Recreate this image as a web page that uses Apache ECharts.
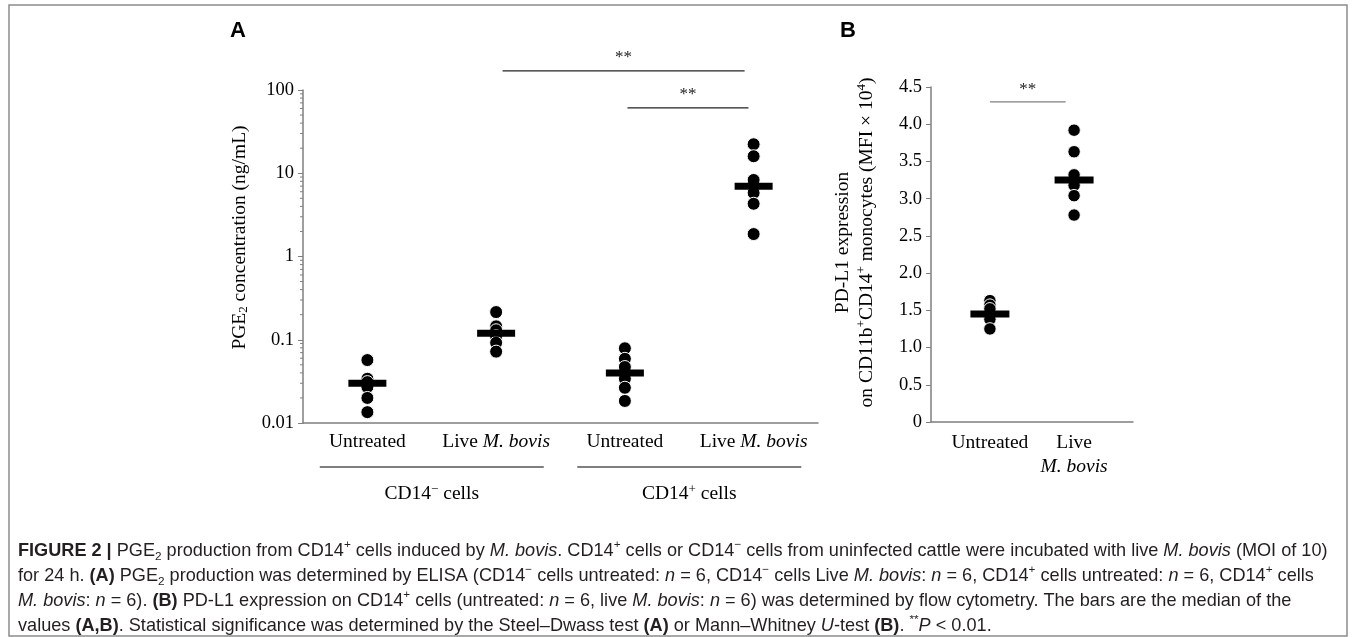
<!DOCTYPE html>
<html>
<head>
<meta charset="utf-8">
<script src="https://cdn.jsdelivr.net/npm/echarts@6/dist/echarts.min.js"></script>
<style>
  html, body { margin: 0; padding: 0; background: #fff; }
  #main { width: 1357px; height: 637px; }
</style>
</head>
<body>
<div id="main"></div>
<script>
// panel A: PGE2 concentration (ng/mL), log axis
var groupsA = ['Untreated', 'Live M. bovis', 'Untreated', 'Live M. bovis'];
var cellTypesA = ['CD14{sup|−} cells', 'CD14{sup|+} cells'];
var pgeNegUntreated = [0.057, 0.034, 0.031, 0.027, 0.020, 0.0135];
var pgeNegLive = [0.215, 0.145, 0.13, 0.11, 0.092, 0.072];
var pgePosUntreated = [0.079, 0.059, 0.047, 0.034, 0.0265, 0.0184];
var pgePosLive = [22.3, 16.0, 8.3, 5.8, 4.3, 1.86];
var pgeMedians = [0.030, 0.12, 0.040, 7.0];

// panel B: PD-L1 expression (MFI x 10^4)
var groupsB = ['Untreated', 'Live\n{i|M. bovis}'];
var pdl1Untreated = [1.63, 1.57, 1.52, 1.40, 1.38, 1.25];
var pdl1Live = [3.92, 3.63, 3.32, 3.18, 3.04, 2.78];
var pdl1Medians = [1.45, 3.25];

var serif = 'Liberation Serif';
var capFamily = '"Liberation Sans Narrow", "Liberation Sans"';
var axisColor = '#7f7f7f';
var txt = 19.5;

var chart = echarts.init(document.getElementById('main'));

function dots(lists) {
  var out = [];
  lists.forEach(function (vals, i) {
    vals.forEach(function (v) { out.push([i, v]); });
  });
  return out;
}

var serifRich = {
  i: { fontFamily: serif, fontSize: txt, fontStyle: 'italic', color: '#000' },
  sup: { fontFamily: serif, fontSize: 13, color: '#000', verticalAlign: 'top', lineHeight: 12 },
  sub: { fontFamily: serif, fontSize: 13, color: '#000', verticalAlign: 'bottom', lineHeight: 12 }
};

var option = {
  animation: false,
  grid: [
    { left: 303, top: 90, width: 515, height: 333 },
    { left: 931, top: 87, width: 202, height: 335 }
  ],
  xAxis: [
    {
      type: 'category', gridIndex: 0, data: groupsA,
      axisLine: { onZero: false, lineStyle: { color: axisColor, width: 1.5 } },
      axisTick: { show: false },
      axisLabel: {
        fontFamily: serif, fontSize: txt, color: '#000', margin: 9, interval: 0,
        formatter: function (v) { return v.replace('M. bovis', '{i|M. bovis}'); },
        rich: serifRich
      }
    },
    {
      type: 'value', gridIndex: 1, min: -0.7, max: 1.7,
      splitLine: { show: false },
      axisLine: { show: true, onZero: false, lineStyle: { color: axisColor, width: 1.5 } },
      axisTick: { show: false },
      axisLabel: {
        customValues: [0, 1],
        fontFamily: serif, fontSize: txt, color: '#000', margin: 9, lineHeight: 24,
        formatter: function (v) { return groupsB[Math.round(v)]; },
        rich: {
          i: { fontFamily: serif, fontSize: txt, fontStyle: 'italic', color: '#000', lineHeight: 24 }
        }
      }
    }
  ],
  yAxis: [
    {
      type: 'log', gridIndex: 0, logBase: 10, min: 0.01, max: 100,
      splitLine: { show: false },
      axisLine: { show: true, onZero: false, lineStyle: { color: axisColor, width: 1.5 } },
      axisTick: { show: true, length: 5, lineStyle: { color: axisColor } },
      axisLabel: {
        fontFamily: serif, fontSize: 18.5, color: '#000', margin: 9,
        formatter: function (v) { return String(Number(v.toPrecision(2))); }
      },
      name: 'PGE{sub|2} concentration (ng/mL)',
      nameLocation: 'middle', nameRotate: 90, nameGap: 53,
      nameTextStyle: { fontFamily: serif, fontSize: txt, color: '#000', padding: [0, 0, 0, 38], rich: serifRich }
    },
    {
      type: 'value', gridIndex: 1, min: 0, max: 4.5, interval: 0.5,
      splitLine: { show: false },
      axisLine: { show: true, onZero: false, lineStyle: { color: axisColor, width: 1.5 } },
      axisTick: { show: true, length: 5, lineStyle: { color: axisColor } },
      axisLabel: {
        fontFamily: serif, fontSize: 18.5, color: '#000', margin: 9,
        formatter: function (v) { return v === 0 ? '0' : v.toFixed(1); }
      },
      name: 'PD-L1 expression\non CD11b{sup|+}CD14{sup|+} monocytes (MFI × 10{sup|4})',
      nameLocation: 'middle', nameRotate: 90, nameGap: 52,
      nameTextStyle: { fontFamily: serif, fontSize: txt, color: '#000', lineHeight: 24, align: 'center', padding: [0, 0, 0, 24], rich: serifRich }
    }
  ],
  series: [
    {
      type: 'scatter', xAxisIndex: 0, yAxisIndex: 0, symbolSize: 13, silent: true,
      itemStyle: { color: '#000', borderColor: '#fff', borderWidth: 1, opacity: 1 },
      data: dots([pgeNegUntreated, pgeNegLive, pgePosUntreated, pgePosLive])
    },
    {
      type: 'scatter', xAxisIndex: 0, yAxisIndex: 0, symbol: 'rect', symbolSize: [38, 7], silent: true, z: 3,
      itemStyle: { color: '#000', opacity: 1 },
      data: pgeMedians.map(function (m, i) { return [i, m]; })
    },
    {
      type: 'scatter', xAxisIndex: 1, yAxisIndex: 1, symbolSize: 12.5, silent: true,
      itemStyle: { color: '#000', borderColor: '#fff', borderWidth: 1, opacity: 1 },
      data: dots([pdl1Untreated, pdl1Live])
    },
    {
      type: 'scatter', xAxisIndex: 1, yAxisIndex: 1, symbol: 'rect', symbolSize: [39, 7], silent: true, z: 3,
      itemStyle: { color: '#000', opacity: 1 },
      data: pdl1Medians.map(function (m, i) { return [i, m]; })
    }
  ]
};
chart.setOption(option);

// annotations placed through the axes
function pA(x, y) { return chart.convertToPixel({ gridIndex: 0 }, [x, y]); }
function pB(x, y) { return chart.convertToPixel({ gridIndex: 1 }, [x, y]); }
var band = pA(1, 1)[0] - pA(0, 1)[0];
var baseA = pA(0, 0.01)[1];
var g = [];

// frame and panel letters
g.push({ type: 'rect', shape: { x: 9, y: 5, width: 1338, height: 631 }, style: { fill: 'none', stroke: '#8c8c8c', lineWidth: 1.5 } });
g.push({ type: 'text', style: { text: 'A', x: 238, y: 31, font: 'bold 22px "Liberation Sans"', fill: '#000', align: 'center', verticalAlign: 'middle' } });
g.push({ type: 'text', style: { text: 'B', x: 848, y: 31, font: 'bold 22px "Liberation Sans"', fill: '#000', align: 'center', verticalAlign: 'middle' } });

// log minor ticks on panel A
[-2, -1, 0, 1].forEach(function (d) {
  for (var k = 2; k <= 9; k++) {
    var p = pA(0, k * Math.pow(10, d));
    var x0 = pA(0, 1)[0] - band / 2;
    g.push({ type: 'line', shape: { x1: x0 - 3, y1: p[1], x2: x0, y2: p[1] }, style: { stroke: axisColor, lineWidth: 1 } });
  }
});

// significance brackets
function sigA(a, fa, b, fb, val) {
  var y = pA(a, val)[1];
  var x1 = pA(a, val)[0] + fa * band, x2 = pA(b, val)[0] + fb * band;
  g.push({ type: 'line', shape: { x1: x1, y1: y, x2: x2, y2: y }, style: { stroke: '#222', lineWidth: 1.2 } });
  g.push({ type: 'text', style: { text: '**', x: (x1 + x2) / 2, y: y - 13, font: '17px "Liberation Serif"', fill: '#222', align: 'center', verticalAlign: 'middle' } });
}
sigA(1, 0.05, 3, -0.07, 170);
sigA(2, 0.02, 3, -0.04, 61);

var b1 = pB(0, 4.3), b2 = pB(0.9, 4.3);
g.push({ type: 'line', shape: { x1: b1[0], y1: b1[1], x2: b2[0], y2: b2[1] }, style: { stroke: '#808080', lineWidth: 1.2 } });
g.push({ type: 'text', style: { text: '**', x: (b1[0] + b2[0]) / 2, y: b1[1] - 12, font: '17px "Liberation Serif"', fill: '#222', align: 'center', verticalAlign: 'middle' } });

// cell type groups under panel A
cellTypesA.forEach(function (t, i) {
  var c = (pA(2 * i, 1)[0] + pA(2 * i + 1, 1)[0]) / 2;
  g.push({ type: 'line', shape: { x1: c - 112, y1: baseA + 44, x2: c + 112, y2: baseA + 44 }, style: { stroke: '#555', lineWidth: 1.5 } });
  g.push({
    type: 'text',
    style: {
      text: t, x: c, y: baseA + 71, fontFamily: serif, fontSize: txt, fill: '#000', align: 'center', verticalAlign: 'middle', lineHeight: 22,
      rich: {
        sup: { fontFamily: serif, fontSize: 13, fill: '#000', verticalAlign: 'top', lineHeight: 12 }
      }
    }
  });
});

// caption
var captionLines = [
  '{b|FIGURE 2 |} PGE{sub|2} production from CD14{sup|+} cells induced by {i|M. bovis}. CD14{sup|+} cells or CD14{sup|−} cells from uninfected cattle were incubated with live {i|M. bovis} (MOI of 10)',
  'for 24 h. {b|(A)} PGE{sub|2} production was determined by ELISA (CD14{sup|−} cells untreated: {i|n} = 6, CD14{sup|−} cells Live {i|M. bovis}: {i|n} = 6, CD14{sup|+} cells untreated: {i|n} = 6, CD14{sup|+} cells',
  '{i|M. bovis}: {i|n} = 6). {b|(B)} PD-L1 expression on CD14{sup|+} cells (untreated: {i|n} = 6, live {i|M. bovis}: {i|n} = 6) was determined by flow cytometry. The bars are the median of the',
  'values {b|(A,B)}. Statistical significance was determined by the Steel–Dwass test {b|(A)} or Mann–Whitney {i|U}-test {b|(B)}. {sup|**}{i|P} < 0.01.'
];

// size the caption font so that the first line fills the frame width
var ctx = document.createElement('canvas').getContext('2d');
function captionWidth(str, size) {
  var w = 0, re = /\{(\w+)\|([^}]*)\}|([^{]+)/g, m;
  while ((m = re.exec(str))) {
    var st = m[1] || '';
    var s = (st === 'sup' || st === 'sub') ? size * 0.65 : size;
    ctx.font = (st === 'b' ? 'bold ' : st === 'i' ? 'italic ' : '') + s + 'px ' + capFamily;
    w += ctx.measureText(m[2] != null ? m[2] : m[3]).width;
  }
  return w;
}
var capSize = 17 * 1310 / captionWidth(captionLines[0], 17);
var supSize = capSize * 0.65;
var capRich = {
  b: { fontFamily: capFamily, fontSize: capSize, fontWeight: 'bold', fill: '#231f20', lineHeight: 24 },
  i: { fontFamily: capFamily, fontSize: capSize, fontStyle: 'italic', fill: '#231f20', lineHeight: 24 },
  sup: { fontFamily: capFamily, fontSize: supSize, fill: '#231f20', verticalAlign: 'top', lineHeight: 12 },
  sub: { fontFamily: capFamily, fontSize: supSize, fill: '#231f20', verticalAlign: 'bottom', lineHeight: 12 }
};
captionLines.forEach(function (t, i) {
  g.push({
    type: 'text',
    style: { text: t, x: 18, y: 551 + i * 25, fontFamily: capFamily, fontSize: capSize, fill: '#231f20', align: 'left', verticalAlign: 'middle', lineHeight: 24, rich: capRich }
  });
});

chart.setOption({ graphic: g });
</script>
</body>
</html>
